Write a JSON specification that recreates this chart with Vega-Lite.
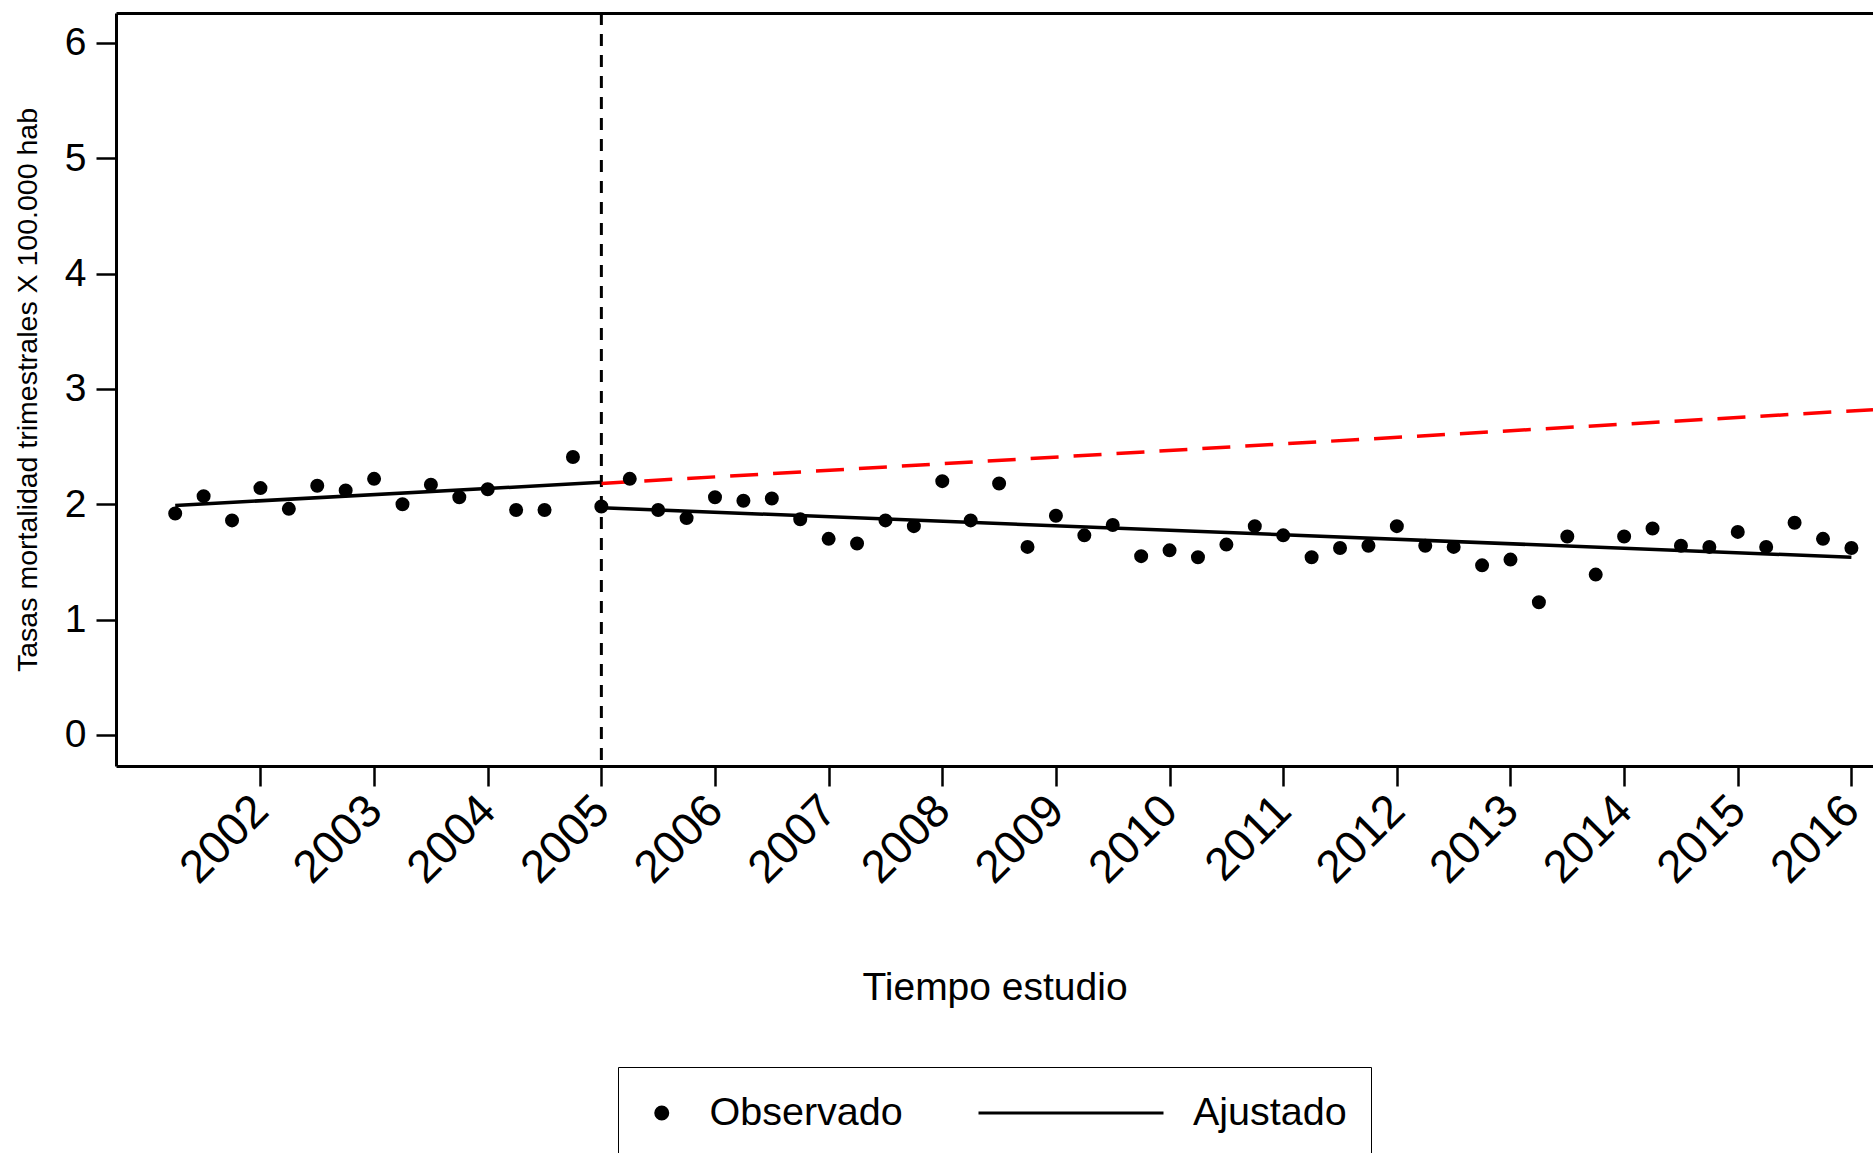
{
  "$schema": "https://vega.github.io/schema/vega-lite/v6.json",
  "autosize": {"type": "none"},
  "padding": {"left": 116, "top": 13, "right": 0, "bottom": 387},
  "width": 1757,
  "height": 753,
  "background": "white",
  "config": {
    "view": {"stroke": null},
    "font": "Liberation Sans",
    "axis": {
      "grid": false,
      "domainColor": "black",
      "domainWidth": 3,
      "tickColor": "black",
      "tickWidth": 2.5,
      "tickSize": 20,
      "labelColor": "black",
      "titleColor": "black",
      "labelFont": "Liberation Sans",
      "titleFont": "Liberation Sans",
      "titleFontWeight": "normal"
    },
    "legend": {"layout": {"bottom": {"anchor": "middle"}}}
  },
  "datasets": {
    "obs": [
      {"t": 2001.25, "tasa": 1.92, "serie": "Observado"},
      {"t": 2001.5, "tasa": 2.07, "serie": "Observado"},
      {"t": 2001.75, "tasa": 1.86, "serie": "Observado"},
      {"t": 2002.0, "tasa": 2.14, "serie": "Observado"},
      {"t": 2002.25, "tasa": 1.96, "serie": "Observado"},
      {"t": 2002.5, "tasa": 2.16, "serie": "Observado"},
      {"t": 2002.75, "tasa": 2.12, "serie": "Observado"},
      {"t": 2003.0, "tasa": 2.22, "serie": "Observado"},
      {"t": 2003.25, "tasa": 2.0, "serie": "Observado"},
      {"t": 2003.5, "tasa": 2.17, "serie": "Observado"},
      {"t": 2003.75, "tasa": 2.06, "serie": "Observado"},
      {"t": 2004.0, "tasa": 2.13, "serie": "Observado"},
      {"t": 2004.25, "tasa": 1.95, "serie": "Observado"},
      {"t": 2004.5, "tasa": 1.95, "serie": "Observado"},
      {"t": 2004.75, "tasa": 2.41, "serie": "Observado"},
      {"t": 2005.0, "tasa": 1.98, "serie": "Observado"},
      {"t": 2005.25, "tasa": 2.22, "serie": "Observado"},
      {"t": 2005.5, "tasa": 1.95, "serie": "Observado"},
      {"t": 2005.75, "tasa": 1.88, "serie": "Observado"},
      {"t": 2006.0, "tasa": 2.06, "serie": "Observado"},
      {"t": 2006.25, "tasa": 2.03, "serie": "Observado"},
      {"t": 2006.5, "tasa": 2.05, "serie": "Observado"},
      {"t": 2006.75, "tasa": 1.87, "serie": "Observado"},
      {"t": 2007.0, "tasa": 1.7, "serie": "Observado"},
      {"t": 2007.25, "tasa": 1.66, "serie": "Observado"},
      {"t": 2007.5, "tasa": 1.86, "serie": "Observado"},
      {"t": 2007.75, "tasa": 1.81, "serie": "Observado"},
      {"t": 2008.0, "tasa": 2.2, "serie": "Observado"},
      {"t": 2008.25, "tasa": 1.86, "serie": "Observado"},
      {"t": 2008.5, "tasa": 2.18, "serie": "Observado"},
      {"t": 2008.75, "tasa": 1.63, "serie": "Observado"},
      {"t": 2009.0, "tasa": 1.9, "serie": "Observado"},
      {"t": 2009.25, "tasa": 1.73, "serie": "Observado"},
      {"t": 2009.5, "tasa": 1.82, "serie": "Observado"},
      {"t": 2009.75, "tasa": 1.55, "serie": "Observado"},
      {"t": 2010.0, "tasa": 1.6, "serie": "Observado"},
      {"t": 2010.25, "tasa": 1.54, "serie": "Observado"},
      {"t": 2010.5, "tasa": 1.65, "serie": "Observado"},
      {"t": 2010.75, "tasa": 1.81, "serie": "Observado"},
      {"t": 2011.0, "tasa": 1.73, "serie": "Observado"},
      {"t": 2011.25, "tasa": 1.54, "serie": "Observado"},
      {"t": 2011.5, "tasa": 1.62, "serie": "Observado"},
      {"t": 2011.75, "tasa": 1.64, "serie": "Observado"},
      {"t": 2012.0, "tasa": 1.81, "serie": "Observado"},
      {"t": 2012.25, "tasa": 1.64, "serie": "Observado"},
      {"t": 2012.5, "tasa": 1.63, "serie": "Observado"},
      {"t": 2012.75, "tasa": 1.47, "serie": "Observado"},
      {"t": 2013.0, "tasa": 1.52, "serie": "Observado"},
      {"t": 2013.25, "tasa": 1.15, "serie": "Observado"},
      {"t": 2013.5, "tasa": 1.72, "serie": "Observado"},
      {"t": 2013.75, "tasa": 1.39, "serie": "Observado"},
      {"t": 2014.0, "tasa": 1.72, "serie": "Observado"},
      {"t": 2014.25, "tasa": 1.79, "serie": "Observado"},
      {"t": 2014.5, "tasa": 1.64, "serie": "Observado"},
      {"t": 2014.75, "tasa": 1.63, "serie": "Observado"},
      {"t": 2015.0, "tasa": 1.76, "serie": "Observado"},
      {"t": 2015.25, "tasa": 1.63, "serie": "Observado"},
      {"t": 2015.5, "tasa": 1.84, "serie": "Observado"},
      {"t": 2015.75, "tasa": 1.7, "serie": "Observado"},
      {"t": 2016.0, "tasa": 1.62, "serie": "Observado"}
    ],
    "ajuste": [
      {"t": 2001.25, "tasa": 1.99, "tramo": "pre"},
      {"t": 2005.0, "tasa": 2.19, "tramo": "pre"},
      {"t": 2005.0, "tasa": 1.97, "tramo": "post"},
      {"t": 2016.0, "tasa": 1.54, "tramo": "post"}
    ],
    "contrafactual": [
      {"t": 2005.0, "tasa": 2.18},
      {"t": 2016.19, "tasa": 2.82}
    ],
    "intervencion": [
      {"t": 2005.0}
    ]
  },
  "resolve": {"axis": {"x": "independent"}},
  "layer": [
    {
      "data": {"name": "intervencion"},
      "mark": {"type": "rule", "color": "black", "strokeWidth": 3, "strokeDash": [12, 9]},
      "encoding": {
        "x": {"field": "t", "type": "quantitative", "scale": {"domain": [2000.729, 2016.19], "nice": false, "zero": false}, "axis": null}
      }
    },
    {
      "data": {"name": "contrafactual"},
      "mark": {"type": "line", "color": "#ff0000", "strokeWidth": 3.5, "strokeDash": [28, 15]},
      "encoding": {
        "x": {"field": "t", "type": "quantitative", "scale": {"domain": [2000.729, 2016.19], "nice": false, "zero": false},
              "axis": {"orient": "top", "labels": false, "ticks": false, "title": null, "domain": true}},
        "y": {"field": "tasa", "type": "quantitative", "scale": {"domain": [-0.27, 6.26], "nice": false, "zero": false}}
      }
    },
    {
      "data": {"name": "ajuste"},
      "mark": {"type": "line", "color": "black", "strokeWidth": 3.5},
      "encoding": {
        "x": {"field": "t", "type": "quantitative", "scale": {"domain": [2000.729, 2016.19], "nice": false, "zero": false}, "axis": null},
        "y": {"field": "tasa", "type": "quantitative", "scale": {"domain": [-0.27, 6.26], "nice": false, "zero": false}},
        "detail": {"field": "tramo", "type": "nominal"}
      }
    },
    {
      "data": {"name": "obs"},
      "mark": {"type": "point", "filled": true, "color": "black", "stroke": "black", "strokeWidth": 2, "opacity": 1},
      "encoding": {
        "x": {"field": "t", "type": "quantitative", "scale": {"domain": [2000.729, 2016.19], "nice": false, "zero": false},
              "axis": {"orient": "bottom", "values": [2002, 2003, 2004, 2005, 2006, 2007, 2008, 2009, 2010, 2011, 2012, 2013, 2014, 2015, 2016],
                       "format": "d", "labelAngle": -45, "labelAlign": "right", "labelBaseline": "middle", "labelFontSize": 46,
                       "labelPadding": 17, "title": "Tiempo estudio", "titleFontSize": 39, "titlePadding": 77}},
        "y": {"field": "tasa", "type": "quantitative", "scale": {"domain": [-0.27, 6.26], "nice": false, "zero": false},
              "axis": {"values": [0, 1, 2, 3, 4, 5, 6], "format": "d", "labelFontSize": 39, "labelPadding": 10,
                       "title": "Tasas mortalidad trimestrales X 100.000 hab", "titleFontSize": 28.5, "titlePadding": 22}},
        "shape": {"field": "serie", "type": "ordinal",
                  "scale": {"domain": ["Observado", "Ajustado"], "range": ["circle", "stroke"]},
                  "legend": {"title": null, "orient": "bottom", "direction": "horizontal", "labelFontSize": 39.5,
                             "labelFont": "Liberation Sans", "labelColor": "black", "labelOffset": 28, "labelLimit": 500,
                             "columnPadding": 74, "symbolStrokeWidth": 3, "symbolStrokeColor": "black",
                             "padding": 24, "strokeColor": "black", "clipHeight": 44, "offset": 59,
                             "encode": {"symbols": {"update": {"stroke": {"value": "black"}, "strokeWidth": {"value": 3}, "fill": {"value": "black"}, "opacity": {"value": 1}}},
                                        "legend": {"update": {"strokeWidth": {"value": 2.5}}}}}},
        "size": {"field": "serie", "type": "ordinal",
                 "scale": {"domain": ["Observado", "Ajustado"], "range": [144, 34225]},
                 "legend": {"title": null, "orient": "bottom", "direction": "horizontal"}}
      }
    }
  ]
}
